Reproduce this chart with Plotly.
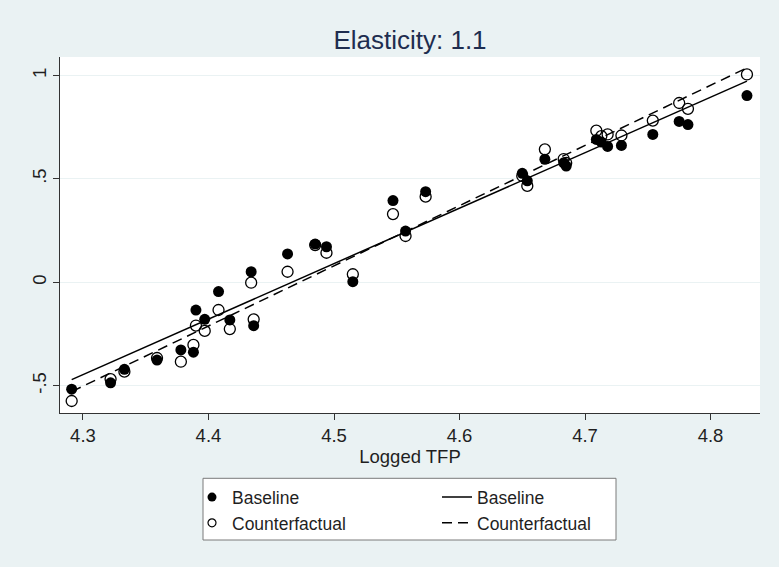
import numpy as np
import plotly.graph_objects as go

# ---- data ----
tfp = [4.291, 4.322, 4.333, 4.359, 4.378, 4.388, 4.390, 4.397, 4.408, 4.417,
       4.434, 4.436, 4.463, 4.485, 4.494, 4.515, 4.547, 4.557, 4.573, 4.650,
       4.654, 4.668, 4.683, 4.685, 4.709, 4.713, 4.718, 4.729, 4.754, 4.775,
       4.782, 4.829]
baseline = [-0.517, -0.486, -0.421, -0.376, -0.327, -0.338, -0.134, -0.179, -0.045, -0.182,
            0.051, -0.210, 0.137, 0.185, 0.172, 0.003, 0.395, 0.248, 0.438, 0.527,
            0.491, 0.595, 0.578, 0.562, 0.691, 0.678, 0.657, 0.662, 0.715, 0.778,
            0.763, 0.903]
counterfactual = [-0.574, -0.468, -0.432, -0.366, -0.384, -0.303, -0.209, -0.235, -0.134, -0.226,
                  -0.002, -0.179, 0.051, 0.180, 0.143, 0.039, 0.330, 0.224, 0.414, 0.514,
                  0.466, 0.643, 0.596, 0.577, 0.733, 0.707, 0.715, 0.710, 0.782, 0.867,
                  0.839, 1.005]

x_ticks = [4.3, 4.4, 4.5, 4.6, 4.7, 4.8]
x_ticklabels = ["4.3", "4.4", "4.5", "4.6", "4.7", "4.8"]
y_ticks = [-0.5, 0, 0.5, 1]
y_ticklabels = ["-.5", "0", ".5", "1"]

title_text = "Elasticity: 1.1"
x_title = "Logged TFP"

# ---- linear fits (Stata lfit) ----
xs = np.array(tfp)
fit_x = np.array([xs.min(), xs.max()])
b_coef = np.polyfit(xs, np.array(baseline), 1)
c_coef = np.polyfit(xs, np.array(counterfactual), 1)
b_fit = np.polyval(b_coef, fit_x)
c_fit = np.polyval(c_coef, fit_x)

BG = "#eaf2f3"
FONT = "Liberation Sans, Arial, sans-serif"
TXT = "#1f1f1f"
FS = 18.5

fig = go.Figure()
fig.add_trace(go.Scatter(x=tfp, y=baseline, mode="markers", name="Baseline",
                         marker=dict(symbol="circle", size=11, color="black", line=dict(width=0)),
                         showlegend=False))
fig.add_trace(go.Scatter(x=tfp, y=counterfactual, mode="markers", name="Counterfactual",
                         marker=dict(symbol="circle-open", size=11, color="black",
                                     line=dict(width=1.3, color="black")),
                         showlegend=False))
# legend keys for the marker series (smaller symbols, as in the reference legend)
fig.add_trace(go.Scatter(x=[None], y=[None], mode="markers", name="Baseline",
                         marker=dict(symbol="circle", size=9, color="black", line=dict(width=0)),
                         legend="legend", legendgroup="a", hoverinfo="skip"))
fig.add_trace(go.Scatter(x=[None], y=[None], mode="markers", name="Counterfactual",
                         marker=dict(symbol="circle-open", size=8, color="black",
                                     line=dict(width=1.2, color="black")),
                         legend="legend", legendgroup="b", hoverinfo="skip"))
fig.add_trace(go.Scatter(x=fit_x, y=b_fit, mode="lines", name="Baseline",
                         line=dict(color="black", width=1.5),
                         legend="legend2", legendgroup="c"))
fig.add_trace(go.Scatter(x=fit_x, y=c_fit, mode="lines", name="Counterfactual",
                         line=dict(color="black", width=1.5, dash="10px,6px"),
                         legend="legend2", legendgroup="d"))

leg_common = dict(bgcolor="rgba(0,0,0,0)", borderwidth=0, orientation="v",
                  traceorder="grouped", tracegroupgap=0,
                  font=dict(family=FONT, size=17.5, color=TXT),
                  xanchor="left", yanchor="top", y=-0.186)

fig.update_layout(
    width=779, height=567,
    margin=dict(l=60, r=19, t=57, b=154),
    paper_bgcolor=BG, plot_bgcolor="white",
    title=dict(text=title_text, x=0.5, xref="paper", xanchor="center",
               y=1 - 40 / 567, yanchor="middle",
               font=dict(family=FONT, size=26, color="#1e2d4f")),
    xaxis=dict(range=[4.2817, 4.8394], tickvals=x_ticks, ticktext=x_ticklabels,
               showgrid=False, zeroline=False, showline=True, linecolor="#333",
               linewidth=1.2, ticks="outside", ticklen=6, tickcolor="#333",
               tickfont=dict(family=FONT, size=FS, color=TXT),
               title=dict(text=x_title, font=dict(family=FONT, size=FS, color=TXT), standoff=2)),
    yaxis=dict(range=[-0.632, 1.0895], tickvals=y_ticks, ticktext=y_ticklabels,
               showgrid=True, gridcolor=BG, gridwidth=1.2, zeroline=False,
               showline=True, linecolor="#333", linewidth=1.2, ticks="outside",
               ticklen=6, tickcolor="#333", tickangle=-90,
               tickfont=dict(family=FONT, size=FS, color=TXT)),
    legend=dict(x=(192 - 60) / 700, **leg_common),
    legend2=dict(x=(437 - 60) / 700, **leg_common),
    shapes=[dict(type="rect", xref="paper", yref="paper",
                 x0=(203 - 60) / 700, x1=(616 - 60) / 700,
                 y0=(413 - 540) / 356, y1=(413 - 478.3) / 356,
                 line=dict(color="#7a7a7a", width=1), fillcolor="white", layer="below")],
    showlegend=True,
)

fig.write_html("out.html")
